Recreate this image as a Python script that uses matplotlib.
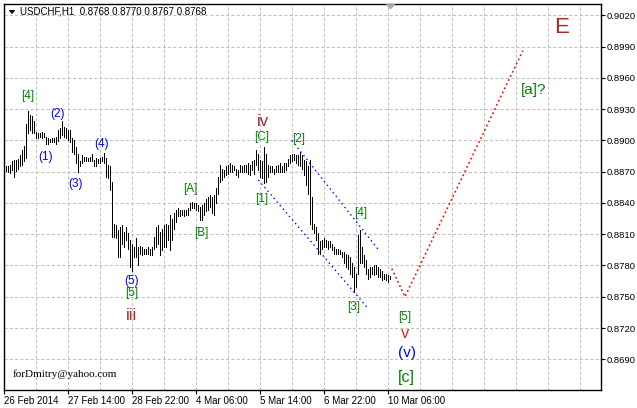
import numpy as np
import matplotlib
matplotlib.use("Agg")
import matplotlib.pyplot as plt
from matplotlib.patches import Polygon

plt.rcParams['lines.scale_dashes'] = False

# ---------------- data (USDCHF H1, bar highs / lows) ----------------
highs = [
    0.8875, 0.8875, 0.8876, 0.8880, 0.8881, 0.8881, 0.8882, 0.8886, 0.8891, 0.8895,
    0.8916, 0.8928, 0.8924, 0.8923, 0.8919, 0.8908, 0.8907, 0.8907, 0.8908, 0.8907,
    0.8903, 0.8902, 0.8901, 0.8902, 0.8902, 0.8903, 0.8910, 0.8912, 0.8919, 0.8913,
    0.8912, 0.8910, 0.8910, 0.8902, 0.8900, 0.8894, 0.8887, 0.8880, 0.8886, 0.8884,
    0.8884, 0.8883, 0.8884, 0.8887, 0.8881, 0.8883, 0.8882, 0.8883, 0.8884, 0.8888,
    0.8883, 0.8876, 0.8875, 0.8860, 0.8820, 0.8819, 0.8814, 0.8817, 0.8819, 0.8812,
    0.8817, 0.8811, 0.8804, 0.8801, 0.8798, 0.8806, 0.8798, 0.8799, 0.8798, 0.8796,
    0.8796, 0.8798, 0.8796, 0.8798, 0.8807, 0.8817, 0.8819, 0.8812, 0.8815, 0.8819,
    0.8820, 0.8819, 0.8828, 0.8825, 0.8830, 0.8833, 0.8835, 0.8833, 0.8833, 0.8833,
    0.8833, 0.8835, 0.8840, 0.8841, 0.8840, 0.8840, 0.8838, 0.8836, 0.8838, 0.8840,
    0.8844, 0.8846, 0.8848, 0.8846, 0.8848, 0.8854, 0.8865, 0.8876, 0.8873, 0.8872,
    0.8875, 0.8876, 0.8878, 0.8876, 0.8875, 0.8873, 0.8872, 0.8876, 0.8875, 0.8876,
    0.8876, 0.8878, 0.8876, 0.8880, 0.8881, 0.8891, 0.8887, 0.8881, 0.8880, 0.8894,
    0.8887, 0.8876, 0.8875, 0.8875, 0.8873, 0.8875, 0.8876, 0.8878, 0.8875, 0.8878,
    0.8878, 0.8882, 0.8886, 0.8887, 0.8887, 0.8886, 0.8886, 0.8889, 0.8886, 0.8881,
    0.8880, 0.8875, 0.8881, 0.8846, 0.8820, 0.8817, 0.8811, 0.8803, 0.8804, 0.8806,
    0.8804, 0.8803, 0.8803, 0.8801, 0.8798, 0.8796, 0.8796, 0.8795, 0.8793, 0.8793,
    0.8791, 0.8790, 0.8788, 0.8782, 0.8779, 0.8772, 0.8809, 0.8814, 0.8798, 0.8790,
    0.8785, 0.8777, 0.8779, 0.8779, 0.8780, 0.8780, 0.8779, 0.8777, 0.8775, 0.8772,
    0.8772, 0.8771, 0.8770,
]
lows = [
    0.8871, 0.8870, 0.8869, 0.8872, 0.8865, 0.8871, 0.8873, 0.8875, 0.8876, 0.8880,
    0.8883, 0.8907, 0.8910, 0.8907, 0.8907, 0.8902, 0.8902, 0.8903, 0.8902, 0.8903,
    0.8897, 0.8897, 0.8898, 0.8898, 0.8898, 0.8897, 0.8899, 0.8902, 0.8905, 0.8903,
    0.8902, 0.8900, 0.8898, 0.8889, 0.8887, 0.8878, 0.8870, 0.8875, 0.8878, 0.8880,
    0.8880, 0.8880, 0.8880, 0.8880, 0.8875, 0.8875, 0.8878, 0.8878, 0.8880, 0.8878,
    0.8865, 0.8864, 0.8852, 0.8807, 0.8807, 0.8806, 0.8788, 0.8788, 0.8801, 0.8798,
    0.8804, 0.8796, 0.8779, 0.8775, 0.8788, 0.8788, 0.8780, 0.8791, 0.8790, 0.8791,
    0.8791, 0.8791, 0.8790, 0.8790, 0.8796, 0.8798, 0.8801, 0.8790, 0.8795, 0.8798,
    0.8798, 0.8804, 0.8795, 0.8804, 0.8815, 0.8822, 0.8827, 0.8827, 0.8828, 0.8827,
    0.8828, 0.8828, 0.8833, 0.8835, 0.8835, 0.8833, 0.8832, 0.8824, 0.8824, 0.8828,
    0.8832, 0.8833, 0.8836, 0.8830, 0.8828, 0.8840, 0.8849, 0.8860, 0.8862, 0.8865,
    0.8867, 0.8868, 0.8870, 0.8870, 0.8872, 0.8867, 0.8865, 0.8870, 0.8870, 0.8870,
    0.8870, 0.8868, 0.8867, 0.8872, 0.8868, 0.8876, 0.8872, 0.8865, 0.8864, 0.8859,
    0.8860, 0.8865, 0.8870, 0.8870, 0.8868, 0.8870, 0.8870, 0.8870, 0.8870, 0.8870,
    0.8872, 0.8875, 0.8878, 0.8880, 0.8881, 0.8878, 0.8876, 0.8875, 0.8873, 0.8867,
    0.8857, 0.8849, 0.8820, 0.8815, 0.8811, 0.8804, 0.8791, 0.8791, 0.8796, 0.8798,
    0.8798, 0.8796, 0.8798, 0.8795, 0.8791, 0.8791, 0.8791, 0.8791, 0.8788, 0.8782,
    0.8779, 0.8777, 0.8772, 0.8769, 0.8755, 0.8759, 0.8772, 0.8782, 0.8782, 0.8779,
    0.8772, 0.8767, 0.8769, 0.8772, 0.8771, 0.8772, 0.8769, 0.8769, 0.8766, 0.8767,
    0.8766, 0.8764, 0.8767,
]

price_ticks = [0.8690, 0.8720, 0.8750, 0.8780, 0.8810, 0.8840, 0.8870,
               0.8900, 0.8930, 0.8960, 0.8990, 0.9020]
time_labels = ['26 Feb 2014', '27 Feb 14:00', '28 Feb 22:00', '4 Mar 06:00',
               '5 Mar 14:00', '6 Mar 22:00', '10 Mar 06:00']
time_label_bars = [-1, 31, 63, 95, 127, 159, 191]

# projected path (bar index, price)
proj_bars = [192.9, 199.5, 258.4]
proj_prices = [0.8777, 0.8750, 0.8986]

# channel lines (bar index, price)
chan_upper_bars = [142.9, 186.7]
chan_upper_prices = [0.8900, 0.8794]
chan_lower_bars = [126.2, 180.9]
chan_lower_prices = [0.8862, 0.8739]

# Elliott wave labels: text, bar, price, colour, size
GREEN = '#008000'
BLUE = '#0000ff'
BROWN = '#a52a2a'
RED = '#e02818'
wave_labels = [
    ('[4]', 10.6, 0.89429, GREEN, 8.5),
    ('(2)', 25.9, 0.89253, BLUE, 8.5),
    ('(1)', 20.0, 0.88841, BLUE, 8.5),
    ('(3)', 34.9, 0.88585, BLUE, 8.5),
    ('(4)', 47.9, 0.88968, BLUE, 8.5),
    ('(5)', 62.9, 0.87651, BLUE, 8.5),
    ('[5]', 62.9, 0.87533, GREEN, 8.5),
    ('iii', 62.9, 0.87320, BROWN, 12),
    ('[A]', 92.2, 0.88534, GREEN, 8.5),
    ('[B]', 97.7, 0.88112, GREEN, 8.5),
    ('iv', 128.4, 0.89180, BROWN, 12),
    ('[C]', 128.0, 0.89035, GREEN, 8.5),
    ('[1]', 127.9, 0.88435, GREEN, 8.5),
    ('[2]', 146.5, 0.89013, GREEN, 8.5),
    ('[3]', 174.0, 0.87405, GREEN, 8.5),
    ('[4]', 177.5, 0.88306, GREEN, 8.5),
    ('[5]', 199.5, 0.87303, GREEN, 8.5),
    ('v', 199.5, 0.87150, RED, 12),
    ('(v)', 200.3, 0.86963, BLUE, 11),
    ('[c]', 200.0, 0.86723, GREEN, 11.5),
    ('[a]?', 263.7, 0.89483, GREEN, 11),
    ('E', 277.9, 0.90080, BROWN, 16),
]

# ---------------- figure ----------------
W, H = 637, 408
fig = plt.figure(figsize=(W / 100, H / 100), dpi=100)
fig.patch.set_facecolor('white')
L, R, T, B = 4, 600.7, 4, 390
ax = fig.add_axes([L / W, (H - B) / H, (R - L) / W, (B - T) / H])
ax.set_facecolor('white')

ax.set_xlim(-1, 297.35)
ax.set_ylim(0.866054, 0.903084)

# grid
for p in price_ticks:
    ax.axhline(p, color='#c0c0c0', lw=0.75, dashes=(2.2, 1.6), zorder=0)
for k in range(1, 19):
    ax.axvline(-1 + 16 * k, color='#c0c0c0', lw=0.75, dashes=(2.2, 1.6), zorder=0)

# bars
xb = np.arange(len(highs))
ax.vlines(xb, lows, highs, color='black', lw=0.55, zorder=3, antialiased=False)

# channel lines
ax.plot(chan_upper_bars, chan_upper_prices, color=BLUE, lw=1.0,
        linestyle=(0, (1.0, 2.4)), zorder=4)
ax.plot(chan_lower_bars, chan_lower_prices, color=BLUE, lw=1.0,
        linestyle=(0, (1.0, 2.4)), zorder=4)
# projection
ax.plot(proj_bars, proj_prices, color='red', lw=1.1,
        linestyle=(0, (1.3, 2.0)), zorder=4)

# wave labels
for txt, xi, yp, col, fs in wave_labels:
    ax.text(xi, yp, txt, color=col, fontsize=fs, ha='center', va='center',
            family='Liberation Sans', zorder=5)

# axes styling
for s in ax.spines.values():
    s.set_color('black')
    s.set_linewidth(1.0)

ax.yaxis.tick_right()
ax.set_yticks(price_ticks)
ax.set_yticklabels(['%.4f' % p for p in price_ticks])
ax.tick_params(axis='y', direction='out', length=3, width=0.8, pad=1,
               labelsize=6.8, colors='black')
ax.set_xticks(time_label_bars)
ax.set_xticklabels(time_labels)
ax.tick_params(axis='x', direction='out', length=3, width=0.8, pad=1.5,
               labelsize=7)
for lab in ax.get_xticklabels() + ax.get_yticklabels():
    lab.set_family('Liberation Sans')
for lab in ax.get_xticklabels():
    lab.set_horizontalalignment('left')

# title / header
fig.text(20 / W, 1 - 12 / H, 'USDCHF,H1  0.8768 0.8770 0.8767 0.8768',
         fontsize=7, family='Liberation Sans', va='center', ha='left')
tri = Polygon([[9.3 / W, 1 - 10.3 / H], [14.7 / W, 1 - 10.3 / H],
               [12 / W, 1 - 13.5 / H]], closed=True, transform=fig.transFigure,
              facecolor='black', edgecolor='black', lw=0.5)
fig.patches.append(tri)
tri2 = Polygon([[386 / W, 1 - 4.5 / H], [395 / W, 1 - 4.5 / H],
                [390.5 / W, 1 - 9 / H]], closed=True, transform=fig.transFigure,
               facecolor='#b0b0b0', edgecolor='#b0b0b0', lw=0.5, zorder=10)
fig.patches.append(tri2)

fig.text(13 / W, 1 - 374 / H, 'forDmitry@yahoo.com', fontsize=8,
         family='Liberation Serif', va='center', ha='left')

fig.savefig('out.png', dpi=100)
